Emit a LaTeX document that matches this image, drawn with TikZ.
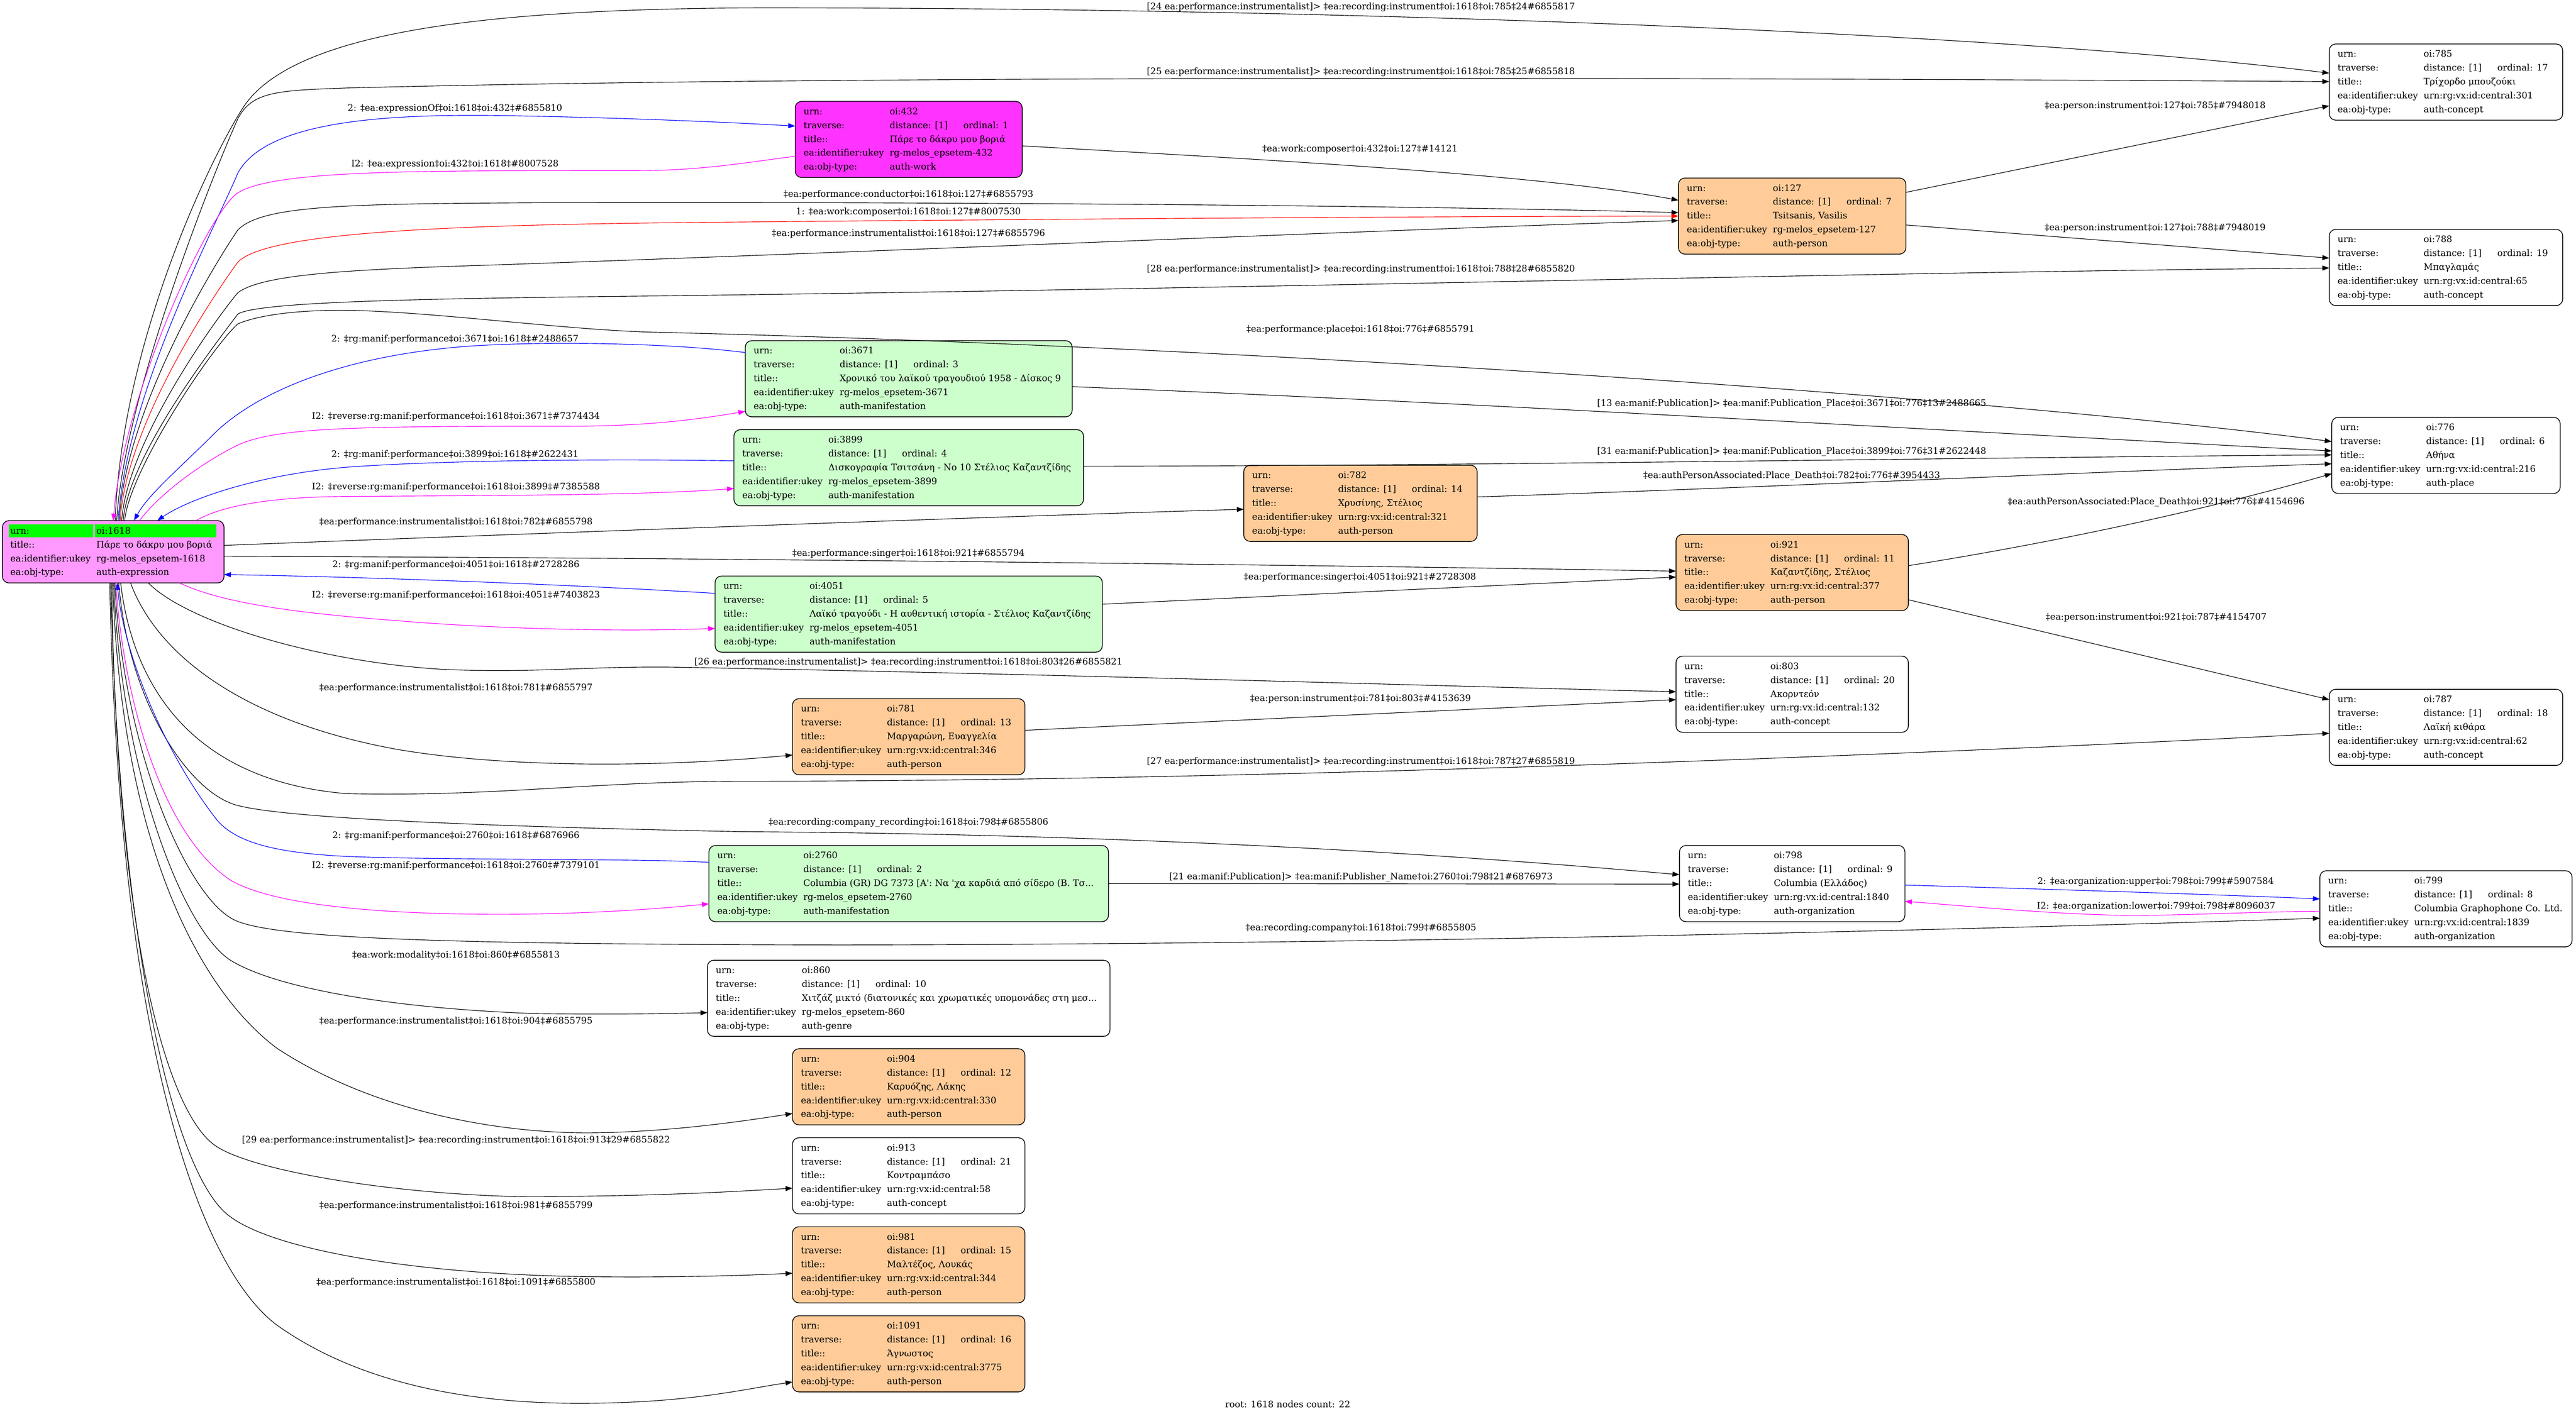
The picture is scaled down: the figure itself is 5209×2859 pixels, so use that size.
\documentclass[tikz,border=0pt]{standalone}
\usepackage{fontspec}
\setmainfont{DejaVu Serif}
\usetikzlibrary{arrows.meta,calc}

\definecolor{rootpink}{HTML}{FF99FF}
\definecolor{workpink}{HTML}{FF33FF}
\definecolor{peach}{HTML}{FFCC99}
\definecolor{manifgreen}{HTML}{CCFFCC}
\definecolor{hlgreen}{HTML}{00FF00}
\definecolor{revmagenta}{RGB}{255,0,255}
\definecolor{fwdblue}{RGB}{0,0,255}
\definecolor{compred}{RGB}{255,0,0}

\newcommand{\recbody}[6]{\begin{tabular}{@{}p{174pt}@{}p{\dimexpr#1pt-208pt\relax}@{}}
urn: & \mbox{#2}\\
traverse: & \mbox{\makebox[149pt][l]{distance: [1]}ordinal: #3}\\
title:: & \mbox{#4}\\
ea:identifier:ukey & \mbox{#5}\\
ea:obj-type: & \mbox{#6}
\end{tabular}}
\newcommand{\hlcell}[1]{\makebox[0pt][l]{\hspace*{-3pt}\textcolor{hlgreen}{\rule[-7pt]{#1pt}{26pt}}}}

\begin{document}
\begin{tikzpicture}[x=1pt,y=-1pt,line width=1.2pt,>={Triangle[length=14pt,width=10pt]},
	font=\fontsize{18.2}{28}\selectfont,
	rec/.style={draw,fill=white,line width=1.5pt,rounded corners=13pt,inner xsep=17pt,inner ysep=7pt,outer sep=0pt,anchor=north},
	lbl/.style={inner sep=0pt}]
	\useasboundingbox (0,0) rectangle (5209,2859);
	\fill[white] (0,0) rectangle (5209,2859);

	\node[rec,fill=rootpink,inner xsep=16pt] (n1618) at (229,1053) {\begin{tabular}{@{}p{174pt}@{}p{242pt}@{}}
		\hlcell{171}urn: & \hlcell{246}oi:1618\\
		title:: & \mbox{Πάρε το δάκρυ μου βοριά}\\
		ea:identifier:ukey & rg-melos\_epsetem-1618\\
		ea:obj-type: & auth-expression
	\end{tabular}};

	\node[rec,fill=workpink] (n432) at (1837.5,205) {\recbody{459}{oi:432}{1}{Πάρε το δάκρυ μου βοριά}{rg-melos\_epsetem-432}{auth-work}};
	\node[rec,fill=manifgreen] (n3671) at (1837.5,689) {\recbody{661}{oi:3671}{3}{Χρονικό του λαϊκού τραγουδιού 1958 - Δίσκος 9}{rg-melos\_epsetem-3671}{auth-manifestation}};
	\node[rec,fill=manifgreen] (n3899) at (1837.5,869) {\recbody{707}{oi:3899}{4}{Δισκογραφία Τσιτσάνη - No 10 Στέλιος Καζαντζίδης}{rg-melos\_epsetem-3899}{auth-manifestation}};
	\node[rec,fill=manifgreen] (n4051) at (1837.5,1165) {\recbody{783}{oi:4051}{5}{Λαϊκό τραγούδι - Η αυθεντική ιστορία - Στέλιος Καζαντζίδης}{rg-melos\_epsetem-4051}{auth-manifestation}};
	\node[rec,fill=peach] (n781) at (1837.5,1413) {\recbody{470}{oi:781}{13}{Μαργαρώνη, Ευαγγελία}{urn:rg:vx:id:central:346}{auth-person}};
	\node[rec,fill=manifgreen] (n2760) at (1837.5,1710) {\recbody{808}{oi:2760}{2}{Columbia (GR) DG 7373 [A\textquotesingle: Να \textquotesingle χα καρδιά από σίδερο (Β. Τσ...}{rg-melos\_epsetem-2760}{auth-manifestation}};
	\node[rec] (n860) at (1837.5,1942) {\recbody{814}{oi:860}{10}{Χιτζάζ μικτό (διατονικές και χρωματικές υπομονάδες στη μεσ...}{rg-melos\_epsetem-860}{auth-genre}};
	\node[rec,fill=peach] (n904) at (1837.5,2121) {\recbody{470}{oi:904}{12}{Καρυόζης, Λάκης}{urn:rg:vx:id:central:330}{auth-person}};
	\node[rec] (n913) at (1837.5,2301) {\recbody{470}{oi:913}{21}{Κοντραμπάσο}{urn:rg:vx:id:central:58}{auth-concept}};
	\node[rec,fill=peach] (n981) at (1837.5,2481) {\recbody{470}{oi:981}{15}{Μαλτέζος, Λουκάς}{urn:rg:vx:id:central:344}{auth-person}};
	\node[rec,fill=peach] (n1091) at (1837.5,2661) {\recbody{470}{oi:1091}{16}{Άγνωστος}{urn:rg:vx:id:central:3775}{auth-person}};

	\node[rec,fill=peach] (n782) at (2751,941) {\recbody{472}{oi:782}{14}{Χρυσίνης, Στέλιος}{urn:rg:vx:id:central:321}{auth-person}};

	\node[rec,fill=peach] (n127) at (3624,360) {\recbody{460}{oi:127}{7}{Tsitsanis, Vasilis}{rg-melos\_epsetem-127}{auth-person}};
	\node[rec,fill=peach] (n921) at (3624,1081) {\recbody{470}{oi:921}{11}{Καζαντζίδης, Στέλιος}{urn:rg:vx:id:central:377}{auth-person}};
	\node[rec] (n803) at (3624,1327) {\recbody{470}{oi:803}{20}{Ακορντεόν}{urn:rg:vx:id:central:132}{auth-concept}};
	\node[rec] (n798) at (3624,1710) {\recbody{456}{oi:798}{9}{Columbia (Ελλάδος)}{urn:rg:vx:id:central:1840}{auth-organization}};

	\node[rec] (n785) at (4946,89) {\recbody{472}{oi:785}{17}{Τρίχορδο μπουζούκι}{urn:rg:vx:id:central:301}{auth-concept}};
	\node[rec] (n788) at (4946,464) {\recbody{472}{oi:788}{19}{Μπαγλαμάς}{urn:rg:vx:id:central:65}{auth-concept}};
	\node[rec] (n776) at (4946,844) {\recbody{462}{oi:776}{6}{Αθήνα}{urn:rg:vx:id:central:216}{auth-place}};
	\node[rec] (n787) at (4946,1394) {\recbody{472}{oi:787}{18}{Λαϊκή κιθάρα}{urn:rg:vx:id:central:62}{auth-concept}};
	\node[rec] (n799) at (4946,1761) {\recbody{510}{oi:799}{8}{Columbia Graphophone Co. Ltd.}{urn:rg:vx:id:central:1839}{auth-organization}};

	\draw[->] ($(n1618.north west)+(228,0)$) .. controls (245,700) and (420,330) .. (490,220) .. controls (590,60) and (1000,20) .. (1500,16) .. controls (2600,14) and (4000,60) .. ($(n785.north west)+(0,59)$);
	\draw[->] ($(n1618.north west)+(231,0)$) .. controls (250,800) and (440,330) .. (481,240) .. controls (510,185) and (560,183) .. (700,178) .. controls (1400,160) and (2600,152) .. ($(n785.north west)+(0,76)$);
	\draw[->,fwdblue] ($(n1618.north west)+(234,0)$) .. controls (255,800) and (430,470) .. (481,350) .. controls (540,240) and (800,230) .. (1030,234) .. controls (1250,238) and (1450,246) .. ($(n432.north west)+(0,50)$);
	\draw[->,revmagenta] ($(n432.north west)+(0,111)$) .. controls (1500,330) and (1420,344) .. (1300,345) .. controls (900,346) and (560,340) .. (481,390) .. controls (420,430) and (250,800) .. ($(n1618.north west)+(224,0)$);
	\draw[->] ($(n1618.north west)+(236,0)$) .. controls (255,820) and (440,525) .. (481,465) .. controls (530,415) and (700,412) .. (1100,410) .. controls (1800,408) and (2800,414) .. ($(n127.north west)+(0,70)$);
	\draw[->,compred] ($(n1618.north west)+(238,0)$) .. controls (255,860) and (430,600) .. (481,530) .. controls (540,470) and (900,455) .. (1400,450) .. controls (2000,444) and (2800,438) .. ($(n127.north west)+(0,77)$);
	\draw[->] ($(n1618.north west)+(241,0)$) .. controls (258,890) and (440,640) .. (481,592) .. controls (530,555) and (700,545) .. (995,536) .. controls (1800,508) and (2800,465) .. ($(n127.north west)+(0,86)$);
	\draw[->] ($(n1618.north west)+(244,0)$) .. controls (260,920) and (440,690) .. (481,635) .. controls (520,612) and (800,605) .. (1200,600) .. controls (2500,585) and (3800,550) .. ($(n788.north west)+(0,78)$);
	\draw[->] ($(n1618.north west)+(247,0)$) .. controls (262,950) and (430,700) .. (481,655) .. controls (540,630) and (650,626) .. (720,628) .. controls (900,633) and (1150,668) .. (1327,672) .. controls (2500,700) and (4000,800) .. ($(n776.north west)+(0,49)$);
	\draw[->,fwdblue] ($(n3671.north west)+(0,24)$) .. controls (1350,693) and (1100,690) .. (950,700) .. controls (700,718) and (520,790) .. (430,880) .. controls (360,950) and (300,1000) .. ($(n1618.north west)+(266,0)$);
	\draw[->,revmagenta] ($(n1618.north west)+(277,0)$) .. controls (330,990) and (420,930) .. (481,900) .. controls (560,865) and (700,862) .. (1150,862) .. controls (1300,862) and (1400,850) .. ($(n3671.north west)+(0,143)$);
	\draw[->,fwdblue] ($(n3899.north west)+(0,63)$) .. controls (1250,928) and (900,930) .. (700,945) .. controls (520,960) and (380,1010) .. ($(n1618.north west)+(313,0)$);
	\draw[->,revmagenta] ($(n1618.north west)+(391,0)$) .. controls (450,1022) and (550,1005) .. (700,1004) .. controls (1000,1002) and (1300,1002) .. ($(n3899.north west)+(0,119)$);

	\draw[->] ($(n1618.north east)+(0,50)$) .. controls (1000,1082) and (2000,1045) .. ($(n782.north west)+(0,89)$);
	\draw[->] ($(n1618.north east)+(0,72)$) .. controls (1500,1128) and (2800,1145) .. ($(n921.north west)+(0,74)$);
	\draw[->,fwdblue] ($(n4051.north west)+(0,35)$) .. controls (1200,1185) and (800,1168) .. ($(n1618.north east)+(0,109)$);
	\draw[->,revmagenta] ($(n1618.south west)+(358,0)$) .. controls (450,1220) and (600,1240) .. (800,1255) .. controls (1000,1272) and (1250,1278) .. ($(n4051.north west)+(0,106)$);

	\draw[->] ($(n1618.south west)+(295,0)$) .. controls (380,1260) and (650,1340) .. (900,1354) .. controls (1100,1362) and (1200,1345) .. (1400,1350) .. controls (2200,1365) and (3000,1390) .. ($(n803.north west)+(0,72)$);
	\draw[->] ($(n1618.south west)+(259,0)$) .. controls (320,1330) and (500,1460) .. (800,1515) .. controls (1000,1550) and (1300,1555) .. ($(n781.north west)+(0,114)$);
	\draw[->] ($(n1618.south west)+(239,0)$) .. controls (270,1400) and (400,1580) .. (700,1605) .. controls (1000,1612) and (1200,1580) .. (1500,1580) .. controls (2500,1580) and (3800,1530) .. ($(n787.north west)+(0,89)$);
	\draw[->] ($(n1618.south west)+(235,0)$) .. controls (260,1420) and (380,1600) .. (477,1628) .. controls (560,1652) and (900,1670) .. (1500,1682) .. controls (2500,1688) and (3200,1752) .. ($(n798.north west)+(0,59)$);
	\draw[->,fwdblue] ($(n2760.north west)+(0,34)$) .. controls (1300,1736) and (900,1740) .. (700,1732) .. controls (560,1725) and (480,1705) .. (440,1660) .. controls (330,1520) and (250,1320) .. ($(n1618.south west)+(232,0)$);
	\draw[->,revmagenta] ($(n1618.south west)+(229,0)$) .. controls (250,1420) and (330,1690) .. (466,1780) .. controls (560,1835) and (800,1850) .. (1030,1849) .. controls (1200,1848) and (1330,1838) .. ($(n2760.north west)+(0,118)$);
	\draw[->] ($(n1618.south west)+(227,0)$) .. controls (250,1520) and (380,1820) .. (477,1862) .. controls (560,1898) and (900,1910) .. (1700,1911) .. controls (2800,1910) and (4000,1880) .. ($(n799.north west)+(0,96)$);
	\draw[->] ($(n1618.south west)+(225,0)$) .. controls (245,1560) and (370,1880) .. (466,1942) .. controls (560,2000) and (800,2040) .. (1085,2050) .. controls (1250,2052) and (1350,2050) .. ($(n860.north west)+(0,106)$);
	\draw[->] ($(n1618.south west)+(223,0)$) .. controls (245,1700) and (400,2000) .. (560,2120) .. controls (750,2245) and (1000,2292) .. (1193,2291) .. controls (1350,2290) and (1500,2268) .. ($(n904.north west)+(0,131)$);
	\draw[->] ($(n1618.south west)+(221,0)$) .. controls (235,1900) and (340,2260) .. (440,2320) .. controls (520,2370) and (800,2415) .. (1050,2420) .. controls (1300,2420) and (1450,2412) .. ($(n913.north west)+(0,102)$);
	\draw[->] ($(n1618.south west)+(219,0)$) .. controls (240,1900) and (350,2380) .. (466,2461) .. controls (560,2530) and (850,2578) .. (1193,2582) .. controls (1350,2584) and (1500,2580) .. ($(n981.north west)+(0,94)$);
	\draw[->] ($(n1618.south west)+(217,0)$) .. controls (240,2100) and (400,2560) .. (560,2680) .. controls (750,2815) and (1000,2840) .. (1193,2838) .. controls (1400,2836) and (1500,2810) .. ($(n1091.north west)+(0,134)$);

	\draw[->] ($(n432.north east)+(0,90)$) .. controls (2500,320) and (3100,350) .. ($(n127.north west)+(0,45)$);
	\draw[->] ($(n127.north east)+(0,29)$) -- ($(n785.north west)+(0,125)$);
	\draw[->] ($(n127.north east)+(0,95)$) -- ($(n788.north west)+(0,58)$);
	\draw[->] ($(n3671.north east)+(0,93)$) .. controls (3000,815) and (4000,875) .. ($(n776.north west)+(0,68)$);
	\draw[->] ($(n3899.north east)+(0,74)$) .. controls (3000,942) and (4000,925) .. ($(n776.north west)+(0,76)$);
	\draw[->] ($(n782.north east)+(0,64)$) .. controls (3600,985) and (4200,955) .. ($(n776.north west)+(0,94)$);
	\draw[->] ($(n921.north east)+(0,63)$) .. controls (4200,1090) and (4500,1020) .. ($(n776.north west)+(0,114)$);
	\draw[->] ($(n4051.north east)+(0,57)$) -- ($(n921.north west)+(0,86)$);
	\draw[->] ($(n921.north east)+(0,132)$) -- ($(n787.north west)+(0,21)$);
	\draw[->] ($(n781.north east)+(0,64)$) -- ($(n803.north west)+(0,88)$);
	\draw[->] ($(n2760.north east)+(0,77)$) -- ($(n798.north west)+(0,78)$);
	\draw[->,fwdblue] ($(n798.north east)+(0,80)$) .. controls (4200,1800) and (4500,1810) .. ($(n799.north west)+(0,57)$);
	\draw[->,revmagenta] ($(n799.north west)+(0,82)$) .. controls (4500,1845) and (4350,1855) .. (4250,1850) .. controls (4100,1845) and (3950,1830) .. ($(n798.north east)+(0,113)$);

	\node[lbl] (l785a) at (2752,14) {[24 ea:performance:instrumentalist]> ‡ea:recording:instrument‡oi:1618‡oi:785‡24\#6855817};
	\node[lbl] (l785b) at (2752,146) {[25 ea:performance:instrumentalist]> ‡ea:recording:instrument‡oi:1618‡oi:785‡25\#6855818};
	\node[lbl] (l432a) at (920,220) {2: ‡ea:expressionOf‡oi:1618‡oi:432‡\#6855810};
	\node[lbl] (l432b) at (920,332) {I2: ‡ea:expression‡oi:432‡oi:1618‡\#8007528};
	\node[lbl] (l127a) at (1837,393) {‡ea:performance:conductor‡oi:1618‡oi:127‡\#6855793};
	\node[lbl] (l127b) at (1837,429) {1: ‡ea:work:composer‡oi:1618‡oi:127‡\#8007530};
	\node[lbl] (l127c) at (1837,473) {‡ea:performance:instrumentalist‡oi:1618‡oi:127‡\#6855796};
	\node[lbl] (l788) at (2752,545) {[28 ea:performance:instrumentalist]> ‡ea:recording:instrument‡oi:1618‡oi:788‡28\#6855820};
	\node[lbl] (l776) at (2751,666) {‡ea:performance:place‡oi:1618‡oi:776‡\#6855791};
	\node[lbl] (l3671a) at (920,686) {2: ‡rg:manif:performance‡oi:3671‡oi:1618‡\#2488657};
	\node[lbl] (l3671b) at (922,843) {I2: ‡reverse:rg:manif:performance‡oi:1618‡oi:3671‡\#7374434};
	\node[lbl] (l3899a) at (920,920) {2: ‡rg:manif:performance‡oi:3899‡oi:1618‡\#2622431};
	\node[lbl] (l3899b) at (922,985) {I2: ‡reverse:rg:manif:performance‡oi:1618‡oi:3899‡\#7385588};
	\node[lbl] (l782) at (922,1056) {‡ea:performance:instrumentalist‡oi:1618‡oi:782‡\#6855798};
	\node[lbl] (l921) at (1837,1120) {‡ea:performance:singer‡oi:1618‡oi:921‡\#6855794};
	\node[lbl] (l4051a) at (922,1143) {2: ‡rg:manif:performance‡oi:4051‡oi:1618‡\#2728286};
	\node[lbl] (l4051b) at (922,1204) {I2: ‡reverse:rg:manif:performance‡oi:1618‡oi:4051‡\#7403823};
	\node[lbl] (l803) at (1837,1340) {[26 ea:performance:instrumentalist]> ‡ea:recording:instrument‡oi:1618‡oi:803‡26\#6855821};
	\node[lbl] (l781) at (922,1391) {‡ea:performance:instrumentalist‡oi:1618‡oi:781‡\#6855797};
	\node[lbl] (l787) at (2752,1541) {[27 ea:performance:instrumentalist]> ‡ea:recording:instrument‡oi:1618‡oi:787‡27\#6855819};
	\node[lbl] (l798) at (1837,1664) {‡ea:recording:company\_recording‡oi:1618‡oi:798‡\#6855806};
	\node[lbl] (l2760a) at (922,1691) {2: ‡rg:manif:performance‡oi:2760‡oi:1618‡\#6876966};
	\node[lbl] (l2760b) at (922,1751) {I2: ‡reverse:rg:manif:performance‡oi:1618‡oi:2760‡\#7379101};
	\node[lbl] (l799) at (2752,1877) {‡ea:recording:company‡oi:1618‡oi:799‡\#6855805};
	\node[lbl] (l860) at (922,1932) {‡ea:work:modality‡oi:1618‡oi:860‡\#6855813};
	\node[lbl] (l904) at (922,2066) {‡ea:performance:instrumentalist‡oi:1618‡oi:904‡\#6855795};
	\node[lbl] (l913) at (922,2306) {[29 ea:performance:instrumentalist]> ‡ea:recording:instrument‡oi:1618‡oi:913‡29\#6855822};
	\node[lbl] (l981) at (922,2438) {‡ea:performance:instrumentalist‡oi:1618‡oi:981‡\#6855799};
	\node[lbl] (l1091) at (922,2594) {‡ea:performance:instrumentalist‡oi:1618‡oi:1091‡\#6855800};

	\node[lbl] (lcomp) at (2750,302) {‡ea:work:composer‡oi:432‡oi:127‡\#14121};
	\node[lbl] (linst785) at (4358,214) {‡ea:person:instrument‡oi:127‡oi:785‡\#7948018};
	\node[lbl] (linst788) at (4358,461) {‡ea:person:instrument‡oi:127‡oi:788‡\#7948019};
	\node[lbl] (lpub3671) at (3623,817) {[13 ea:manif:Publication]> ‡ea:manif:Publication\_Place‡oi:3671‡oi:776‡13\#2488665};
	\node[lbl] (lpub3899) at (3623,914) {[31 ea:manif:Publication]> ‡ea:manif:Publication\_Place‡oi:3899‡oi:776‡31\#2622448};
	\node[lbl] (ldeath782) at (3623,963) {‡ea:authPersonAssociated:Place\_Death‡oi:782‡oi:776‡\#3954433};
	\node[lbl] (ldeath921) at (4360,1016) {‡ea:authPersonAssociated:Place\_Death‡oi:921‡oi:776‡\#4154696};
	\node[lbl] (lsing) at (2750,1168) {‡ea:performance:singer‡oi:4051‡oi:921‡\#2728308};
	\node[lbl] (linst787) at (4360,1249) {‡ea:person:instrument‡oi:921‡oi:787‡\#4154707};
	\node[lbl] (linst803) at (2751,1414) {‡ea:person:instrument‡oi:781‡oi:803‡\#4153639};
	\node[lbl] (lpubname) at (2752,1774) {[21 ea:manif:Publication]> ‡ea:manif:Publisher\_Name‡oi:2760‡oi:798‡21\#6876973};
	\node[lbl] (lupper) at (4359,1784) {2: ‡ea:organization:upper‡oi:798‡oi:799‡\#5907584};
	\node[lbl] (llower) at (4360,1833) {I2: ‡ea:organization:lower‡oi:799‡oi:798‡\#8096037};

	\node[lbl] (foot) at (2604,2840) {root: 1618 nodes count: 22};
\end{tikzpicture}
\end{document}
